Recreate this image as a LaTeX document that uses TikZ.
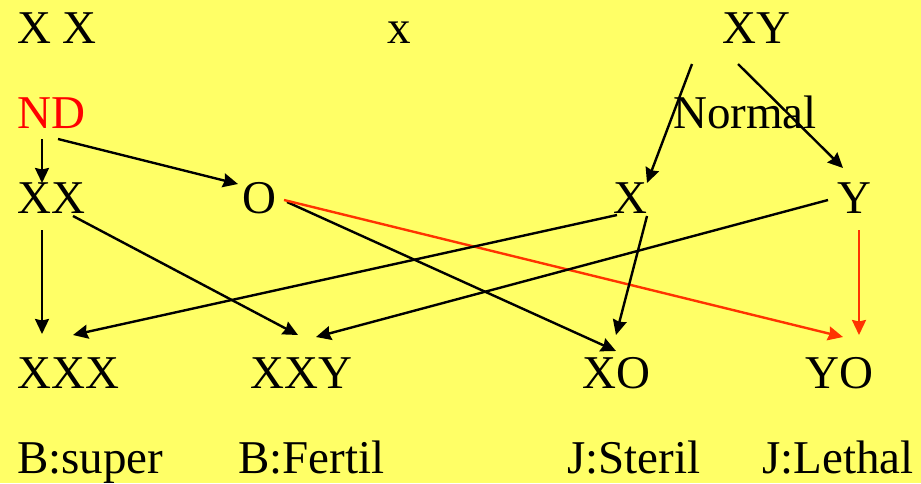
\documentclass[tikz,border=0pt]{standalone}
\usepackage{fontspec}
\setmainfont{Liberation Serif}
\usetikzlibrary{arrows.meta}
\definecolor{bg}{HTML}{FFFF66}
\definecolor{ndred}{HTML}{FF0000}
\definecolor{arrred}{HTML}{FF3300}
\begin{document}
\begin{tikzpicture}[x=1pt,y=-1pt,
  lbl/.style={anchor=base west,inner sep=0pt,font=\fontsize{47pt}{47pt}\selectfont},
  conn/.style={line width=2.4pt,-{Stealth[length=15pt,width=14pt,inset=1.5pt]}},
  redconn/.style={conn,draw=arrred,fill=arrred}]
\fill[bg] (0,0) rectangle (921,483);
\useasboundingbox (0,0) rectangle (921,483);
% row 1
\node[lbl] (pxx) at (17,43) {X X};
\node[lbl] (cross) at (387,43) {x};
\node[lbl] (pxy) at (722,43) {XY};
% row 2
\node[lbl,text=ndred] (nd) at (17,128) {ND};
\node[lbl] (normal) at (673,128) {Normal};
% row 3
\node[lbl] (gxx) at (17,213) {XX};
\node[lbl] (go) at (242,213) {O};
\node[lbl] (gx) at (613,213) {X};
\node[lbl] (gy) at (837,213) {Y};
% row 4
\node[lbl] (xxx) at (17,388) {XXX};
\node[lbl] (xxy) at (250,388) {XXY};
\node[lbl] (xo) at (582,388) {XO};
\node[lbl] (yo) at (805,388) {YO};
% row 5
\node[lbl] (bsuper) at (17,473) {B:super};
\node[lbl] (bfertil) at (238,473) {B:Fertil};
\node[lbl] (jsteril) at (567,473) {J:Steril};
\node[lbl] (jlethal) at (762,473) {J:Lethal};
% connectors
\draw[conn] ([shift={(25,11)}]nd.base west) -- ([shift={(25,-30)}]gxx.base west);
\draw[conn] ([shift={(41,11)}]nd.base west) -- ([shift={(-4,-29)}]go.base west);
\draw[conn] ([shift={(25,17)}]gxx.base west) -- ([shift={(25,-54)}]xxx.base west);
\draw[conn] ([shift={(56,3)}]gxx.base west) -- ([shift={(48,-53)}]xxy.base west);
\draw[conn] ([shift={(45,-11)}]go.base west) -- ([shift={(34,-37)}]xo.base west);
\draw[redconn] ([shift={(42,-13)}]go.base west) -- ([shift={(38,-51)}]yo.base west);
\draw[conn] ([shift={(-30,21)}]pxy.base west) -- ([shift={(34,-30)}]gx.base west);
\draw[conn] ([shift={(16,21)}]pxy.base west) -- ([shift={(6,-45)}]gy.base west);
\draw[conn] ([shift={(4,2)}]gx.base west) -- ([shift={(56,-53)}]xxx.base west);
\draw[conn] ([shift={(-9,-13)}]gy.base west) -- ([shift={(66,-51)}]xxy.base west);
\draw[conn] ([shift={(34,3)}]gx.base west) -- ([shift={(34,-53)}]xo.base west);
\draw[redconn] ([shift={(22,17)}]gy.base west) -- ([shift={(54,-53)}]yo.base west);
\end{tikzpicture}
\end{document}
